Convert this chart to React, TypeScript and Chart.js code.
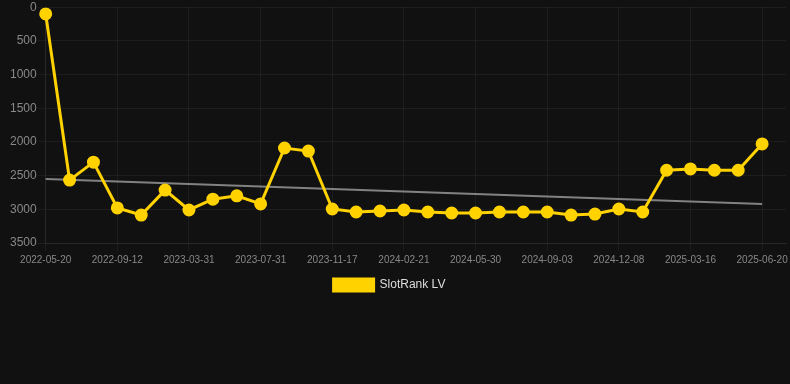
import React, { useEffect, useRef } from "react";
import { Chart, registerables } from "chart.js";

Chart.register(...registerables);

const dates: string[] = [
  "2022-05-20", "2022-06-30", "2022-08-05",
  "2022-09-12", "2022-11-20", "2023-01-25",
  "2023-03-31", "2023-05-10", "2023-06-20",
  "2023-07-31", "2023-09-05", "2023-10-12",
  "2023-11-17", "2023-12-20", "2024-01-20",
  "2024-02-21", "2024-03-25", "2024-04-28",
  "2024-05-30", "2024-07-01", "2024-08-02",
  "2024-09-03", "2024-10-05", "2024-11-06",
  "2024-12-08", "2025-01-10", "2025-02-12",
  "2025-03-16", "2025-04-17", "2025-05-19",
  "2025-06-20",
];

const slotRankLV: number[] = [
  100, 2566, 2300, 2980, 3085, 2715, 3010, 2850, 2800, 2920,
  2090, 2135, 2995, 3040, 3025, 3010, 3040, 3055, 3055, 3040,
  3040, 3040, 3085, 3070, 2995, 3040, 2420, 2400, 2420, 2420,
  2030,
];

const trendStart = 2550;
const trendEnd = 2920;

const yTicks = { min: 0, max: 3500, step: 500 };

const legendShift = {
  id: "legendShift",
  afterLayout(chart: any) {
    const lg = chart.legend;
    if (lg) {
      lg.left -= 12;
      lg.right -= 12;
    }
  },
};

export default function App() {
  const ref = useRef<HTMLCanvasElement | null>(null);

  useEffect(() => {
    document.body.style.margin = "0";
    document.body.style.background = "#111111";
    document.body.style.overflow = "hidden";
    if (!ref.current) return;
    const labels = [...dates, ""];
    const mainData: (number | null)[] = [...slotRankLV, null];
    const trendData: (number | null)[] = labels.map(() => null);
    trendData[0] = trendStart;
    trendData[slotRankLV.length - 1] = trendEnd;

    const chart = new Chart(ref.current, {
      type: "line",
      data: {
        labels,
        datasets: [
          {
            label: "SlotRank LV",
            data: mainData,
            borderColor: "#FFD200",
            backgroundColor: "#FFD200",
            pointBackgroundColor: "#FFD200",
            pointBorderColor: "#FFD200",
            borderWidth: 3,
            pointRadius: 5,
            tension: 0,
          },
          {
            label: "trend",
            data: trendData,
            borderColor: "rgba(150,150,150,0.85)",
            backgroundColor: "rgba(150,150,150,0.85)",
            borderWidth: 2,
            pointRadius: 0,
            spanGaps: true,
            tension: 0,
          },
        ],
      },
      plugins: [legendShift],
      options: {
        animation: false,
        responsive: true,
        maintainAspectRatio: false,
        layout: { padding: { left: 9, right: 0 } },
        plugins: {
          legend: {
            position: "bottom",
            labels: {
              color: "#dddddd",
              font: { size: 12 },
              filter: (item: any) => item.text !== "trend",
            },
          },
          tooltip: { enabled: false },
        },
        scales: {
          x: {
            ticks: {
              color: "#888888",
              font: { size: 10 },
              maxRotation: 0,
              autoSkip: true,
            },
            grid: { color: "rgba(255,255,255,0.05)" },
            border: { color: "rgba(255,255,255,0.05)" },
          },
          y: {
            reverse: true,
            min: yTicks.min,
            max: yTicks.max,
            ticks: {
              stepSize: yTicks.step,
              color: "#888888",
              font: { size: 12 },
              padding: 1,
              callback: (v: any) => String(v),
            },
            grid: { color: "rgba(255,255,255,0.05)" },
            border: { color: "rgba(255,255,255,0.05)" },
          },
        },
      },
    });
    return () => chart.destroy();
  }, []);

  return (
    <div style={{ width: 790, height: 384, background: "#111111", overflow: "hidden" }}>
      <div style={{ position: "relative", width: 794, height: 302, marginTop: -1 }}>
        <canvas ref={ref} />
      </div>
    </div>
  );
}
